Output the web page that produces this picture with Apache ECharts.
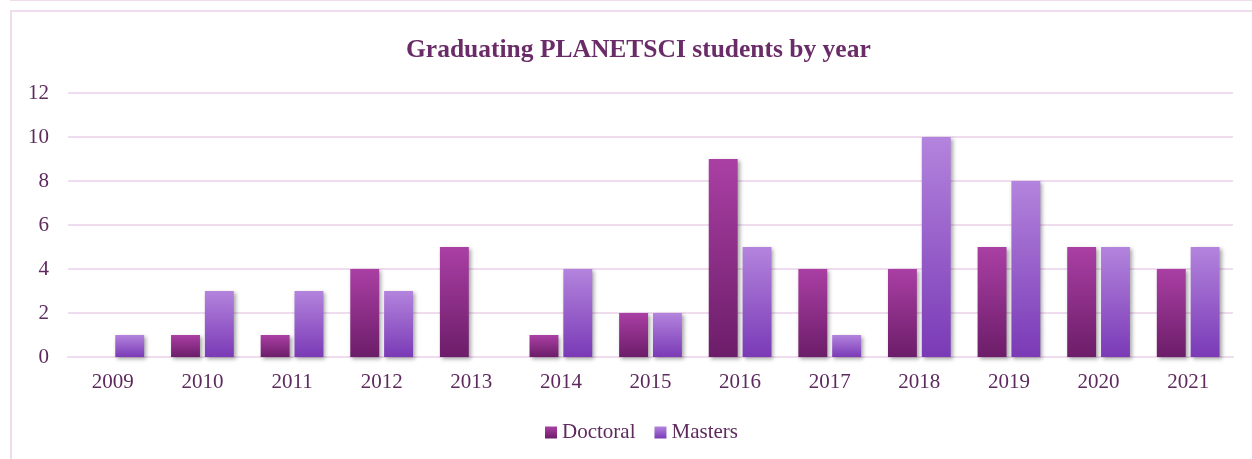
<!DOCTYPE html>
<html>
<head>
<meta charset="utf-8">
<script src="https://cdn.jsdelivr.net/npm/echarts@6/dist/echarts.min.js"></script>
<style>
  html, body { margin: 0; padding: 0; background: #fff; }
  #wrap { position: relative; width: 1252px; height: 459px; overflow: hidden; }
  .frame-top { position: absolute; left: 10px; top: -20px; width: 1300px; height: 21px; border: 2px solid #efdcef; box-sizing: border-box; }
  .frame { position: absolute; left: 10px; top: 10px; width: 1300px; height: 500px; border: 2px solid #efdcef; box-sizing: border-box; }
  #chart { position: absolute; left: 0; top: 0; width: 1252px; height: 459px; }
</style>
</head>
<body>
<div id="wrap">
  <div class="frame-top"></div>
  <div class="frame"></div>
  <div id="chart"></div>
</div>
<script>
// 数据
const years = ['2009', '2010', '2011', '2012', '2013', '2014', '2015', '2016', '2017', '2018', '2019', '2020', '2021']
const doctoral = [0, 1, 1, 4, 5, 1, 2, 9, 4, 4, 5, 5, 4]
const masters = [1, 3, 3, 3, 0, 4, 2, 5, 1, 10, 8, 5, 5]

const textColor = '#5e2a5e'
const font = '"Liberation Serif", "Times New Roman", serif'

const grad = (top, bottom) => new echarts.graphic.LinearGradient(0, 0, 0, 1, [
  { offset: 0, color: top },
  { offset: 1, color: bottom }
])

const barShadow = {
  shadowColor: 'rgba(0, 0, 0, 0.35)',
  shadowBlur: 4,
  shadowOffsetX: 2,
  shadowOffsetY: 2
}

const chart = echarts.init(document.getElementById('chart'))

const option = {
  animation: false,
  title: {
    text: 'Graduating PLANETSCI students by year',
    left: 401,
    top: 32,
    textStyle: {
      color: '#6a2c68',
      fontFamily: font,
      fontWeight: 'bold',
      fontSize: 25.5
    }
  },
  legend: {
    top: 417,
    left: 540,
    itemWidth: 12,
    itemHeight: 12,
    itemGap: 19,
    icon: 'rect',
    textStyle: { color: textColor, fontFamily: font, fontSize: 21 },
    data: ['Doctoral', 'Masters']
  },
  grid: {
    left: 68,
    right: 19,
    top: 93,
    bottom: 102
  },
  xAxis: {
    type: 'category',
    data: years,
    axisLine: { show: true, lineStyle: { color: '#efdcef', width: 2 } },
    axisTick: { show: false },
    axisLabel: { color: textColor, fontFamily: font, fontSize: 21, margin: 15 }
  },
  yAxis: {
    type: 'value',
    min: 0,
    max: 12,
    interval: 2,
    axisLine: { show: false },
    axisTick: { show: false },
    axisLabel: { color: textColor, fontFamily: font, fontSize: 21, margin: 19 },
    splitLine: { lineStyle: { color: '#efdcef', width: 2 } }
  },
  series: [
    {
      name: 'Doctoral',
      type: 'bar',
      data: doctoral,
      barGap: '17%',
      barCategoryGap: '30%',
      itemStyle: { color: grad('#aa3fa4', '#6c1d69'), ...barShadow }
    },
    {
      name: 'Masters',
      type: 'bar',
      data: masters,
      itemStyle: { color: grad('#b384dd', '#7a3ab6'), ...barShadow }
    }
  ]
}

chart.setOption(option)
</script>
</body>
</html>
